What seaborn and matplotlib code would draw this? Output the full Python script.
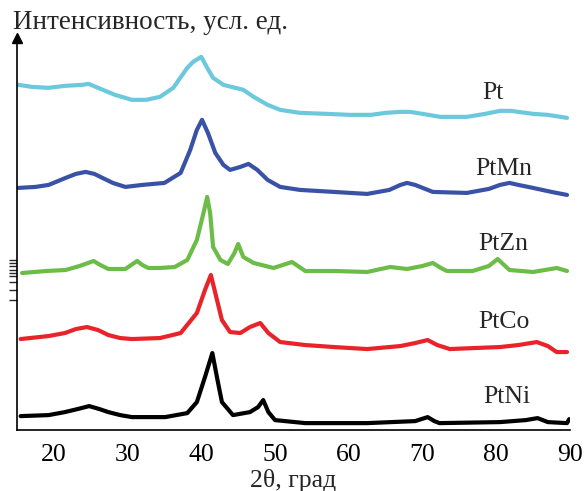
import numpy as np
import pandas as pd
import seaborn as sns
import matplotlib.pyplot as plt

# данные рентгенограмм (2θ, интенсивность в усл. ед., со смещением)
pt_x = [15.2, 17.0, 19.3, 21.5, 23.9, 24.7, 26.0, 28.3, 30.6, 32.5, 34.4, 36.2, 38.1, 38.9,
        40.0, 40.8, 41.6, 43.0, 45.7, 47.1, 49.0, 50.7, 53.4, 57.0, 60.2, 63.0, 65.0, 67.0,
        68.3, 70.0, 72.4, 76.0, 78.5, 80.5, 82.0, 85.0, 87.0, 89.6]
pt_y = [345, 343, 342, 344, 345, 346, 342, 335, 330, 330, 333, 342, 362, 368,
        373, 362, 352, 345, 340, 333, 325, 320, 317, 316, 315, 315, 317, 318,
        318, 316, 313, 313, 316, 319, 319, 316, 315, 312]

ptmn_x = [15.2, 17.5, 19.3, 21.6, 23.0, 24.3, 25.5, 26.6, 28.0, 29.7, 32.0, 35.0, 37.2, 38.5,
          39.4, 40.1, 40.9, 41.9, 43.0, 43.9, 45.3, 46.4, 47.6, 49.0, 50.7, 53.4, 58.0, 62.5,
          65.5, 67.0, 67.9, 69.0, 71.4, 76.0, 79.0, 80.5, 81.8, 83.0, 85.0, 87.5, 89.6]
ptmn_y = [242, 243, 245, 252, 256, 258, 256, 252, 247, 243, 245, 247, 257, 280,
          300, 310, 297, 277, 265, 260, 263, 266, 260, 250, 243, 240, 238, 236,
          240, 245, 247, 245, 238, 237, 241, 245, 247, 245, 242, 238, 235]

ptzn_x = [15.7, 19.0, 21.6, 23.5, 25.4, 26.3, 27.4, 29.7, 31.3, 32.0, 32.8, 34.4, 36.4, 38.1,
          39.4, 40.3, 40.8, 41.2, 41.6, 42.6, 43.6, 44.5, 45.0, 45.7, 47.1, 49.8, 52.3, 54.1,
          58.0, 62.5, 65.6, 67.9, 70.0, 71.4, 72.5, 73.3, 76.8, 79.0, 80.2, 81.2, 81.8, 85.0,
          88.2, 89.6]
ptzn_y = [157, 159, 160, 164, 169, 165, 161, 161, 169, 165, 162, 162, 163, 170,
          190, 217, 233, 217, 183, 170, 166, 177, 186, 173, 167, 162, 168, 159,
          159, 158, 163, 161, 164, 167, 162, 159, 159, 164, 171, 164, 160, 158,
          162, 159]

ptco_x = [15.5, 19.3, 21.5, 23.0, 24.5, 26.0, 27.4, 29.0, 30.6, 34.4, 37.2, 39.4, 40.5, 41.3,
          41.9, 42.8, 43.9, 45.3, 46.6, 48.0, 49.1, 50.7, 54.1, 58.0, 62.5, 67.0, 69.0, 70.7,
          72.0, 73.7, 77.0, 80.5, 83.0, 85.5, 87.0, 88.2, 89.6]
ptco_y = [91, 94, 97, 101, 103, 100, 95, 92, 91, 92, 97, 117, 140, 155,
          137, 110, 98, 97, 103, 107, 97, 88, 85, 83, 81, 84, 87, 90,
          85, 81, 82, 83, 85, 88, 84, 78, 78]

ptni_x = [15.5, 19.3, 21.5, 23.2, 24.8, 26.2, 27.4, 29.0, 30.6, 35.1, 38.1, 39.4, 40.5, 41.5,
          42.2, 42.8, 44.3, 46.6, 47.7, 48.4, 49.1, 50.0, 54.1, 62.5, 69.0, 70.7, 71.6, 72.3,
          80.5, 84.0, 85.6, 87.0, 89.6, 89.9]
ptni_y = [14, 15, 18, 21, 24, 21, 18, 15, 13, 13, 17, 28, 53, 77,
          50, 28, 15, 18, 23, 30, 18, 10, 7, 7, 9, 13, 9, 7,
          8, 10, 12, 8, 7, 11]

names = ["Pt", "PtMn", "PtZn", "PtCo", "PtNi"]
colors = ["#6cc9dc", "#3a52a6", "#6cbd48", "#e8232a", "#000000"]

frames = []
for name, xs, ys in zip(names,
                        [pt_x, ptmn_x, ptzn_x, ptco_x, ptni_x],
                        [pt_y, ptmn_y, ptzn_y, ptco_y, ptni_y]):
    frames.append(pd.DataFrame({"theta": xs, "I": ys, "sample": name}))
df = pd.concat(frames, ignore_index=True)

sns.set_style("white")
plt.rcParams['font.family'] = ['Liberation Serif', 'DejaVu Serif']

fig = plt.figure(figsize=(5.84, 4.91), dpi=100)
ax = fig.add_axes([0.029, 0.124, 0.947, 0.799])

sns.lineplot(data=df, x="theta", y="I", hue="sample", palette=dict(zip(names, colors)),
             estimator=None, sort=False, linewidth=3.0, legend=False, ax=ax)

ax.set_xlim(15, 90)
ax.set_ylim(0, 392)
ax.set_xticks([20, 30, 40, 50, 60, 70, 80, 90])
ax.tick_params(axis="x", direction="in", length=6, width=1, labelsize=18.5, pad=10, colors="black")
# странные засечки на оси ординат, как на оригинале
ax.set_yticks([130, 140, 148, 154, 157, 160, 164, 167, 170])
ax.set_yticklabels([])
ax.tick_params(axis="y", direction="out", length=6, width=1, left=True)

for side in ["top", "right"]:
    ax.spines[side].set_visible(False)
for side in ["left", "bottom"]:
    ax.spines[side].set_color("black")
    ax.spines[side].set_linewidth(1.2)

# стрелка оси ординат
ax.plot(0, 1, "^k", markersize=7, transform=ax.transAxes, clip_on=False)

ax.set_xlabel("2θ, град", fontsize=18.5, labelpad=2)
ax.set_ylabel("")
fig.text(0.022, 0.955, "Интенсивность, усл. ед.", fontsize=19.5, ha="left", va="center")

label_pos = {"Pt": (0.86, 0.86), "PtMn": (0.88, 0.665), "PtZn": (0.88, 0.474), "PtCo": (0.88, 0.276),
             "PtNi": (0.885, 0.085)}
for name in names:
    ax.text(*label_pos[name], name, fontsize=18.5, ha="center", va="center", transform=ax.transAxes)

fig.savefig("out.png", dpi=100)
